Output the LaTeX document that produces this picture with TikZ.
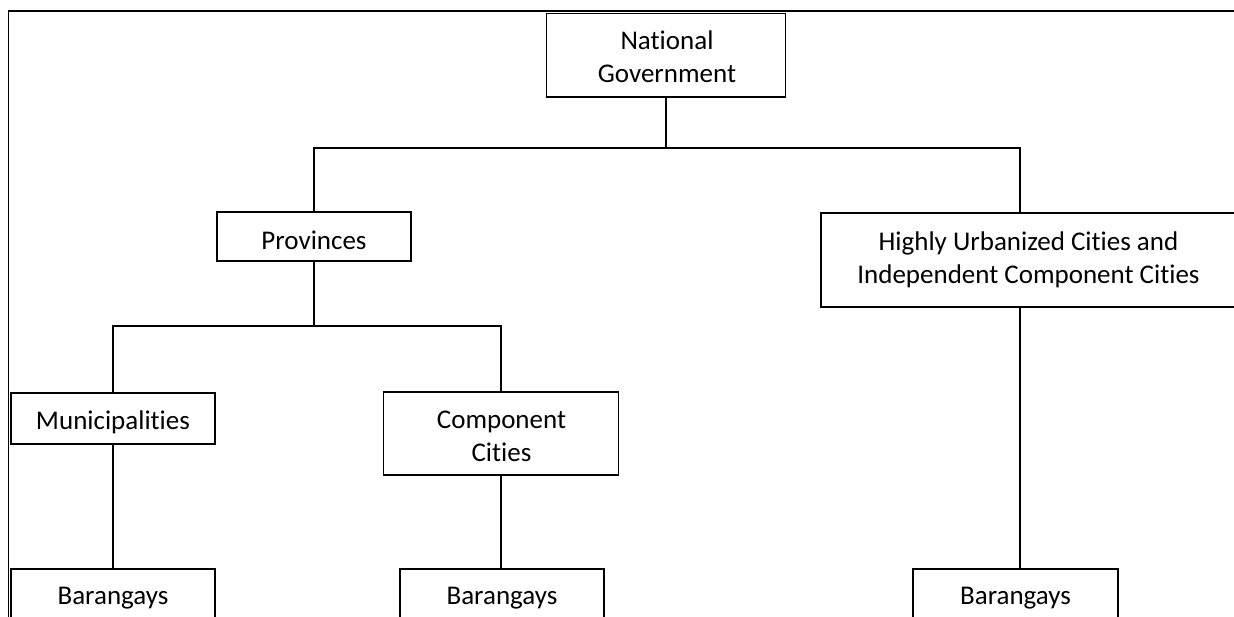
\documentclass[tikz,border=0pt]{standalone}
\usepackage{fontspec}
\setmainfont{Carlito}[Ligatures={NoCommon,NoContextual}]
\begin{document}
\begin{tikzpicture}[x=0.75pt,y=-0.75pt,
  box/.style={draw, line width=1.1pt, inner sep=0pt, rectangle},
  lbl/.style={font=\fontsize{20.25}{24.75}\selectfont, inner sep=0pt, align=center, anchor=base},
  conn/.style={line width=1.1pt},
  frame/.style={line width=1.4pt}]
\useasboundingbox (0,0) rectangle (1234,617);
\clip (0,0) rectangle (1234,617);
% outer frame
\draw[frame] (8.5,620) -- (8.5,11) -- (1240,11);
% boxes
\node[box, fill=white, minimum width=179.25pt, minimum height=62.6pt] (nat) at (666,55.25) {};
\node[box, minimum width=145.5pt, minimum height=36.75pt] (prov) at (314,236.5) {};
\node[box, minimum width=311.25pt, minimum height=70.5pt] (huc) at (1028.5,260) {};
\node[box, minimum width=153pt, minimum height=38.25pt] (muni) at (113,418.5) {};
\node[box, minimum width=176.25pt, minimum height=62.25pt] (comp) at (501,433.5) {};
\node[box, minimum width=153pt, minimum height=39pt] (bar1) at (113,595) {};
\node[box, minimum width=153pt, minimum height=39pt] (bar2) at (502,595) {};
\node[box, minimum width=153.75pt, minimum height=39pt] (bar3) at (1015.5,595) {};
% texts (base anchor = baseline of the last line)
\node[lbl] (nat-t) at (667,83) {National\\Government};
\node[lbl] (prov-t) at (314,249) {Provinces};
\node[lbl] (huc-t) at (1028.5,283) {Highly Urbanized Cities and\\Independent Component Cities};
\node[lbl] (muni-t) at (113,429) {Municipalities};
\node[lbl] (comp-t) at (501.5,461) {Component\\Cities};
\node[lbl] (bar1-t) at (113,604) {Barangays};
\node[lbl] (bar2-t) at (502,604) {Barangays};
\node[lbl] (bar3-t) at (1015.5,604) {Barangays};
% connectors
\coordinate (bus1) at (0,148);
\coordinate (bus2) at (0,326);
\coordinate (hx) at (1020,0);
\draw[conn] (nat.south) -- (nat.south |- bus1);
\draw[conn] (prov.north) -- (prov.north |- bus1) -| (hx |- huc.north);
\draw[conn] (prov.south) -- (prov.south |- bus2);
\draw[conn] (muni.north) -- (muni.north |- bus2) -| (comp.north);
\draw[conn] (muni.south) -- (bar1.north);
\draw[conn] (comp.south) -- (comp.south |- bar2.north);
\draw[conn] (hx |- huc.south) -- (hx |- bar3.north);
\end{tikzpicture}
\end{document}
